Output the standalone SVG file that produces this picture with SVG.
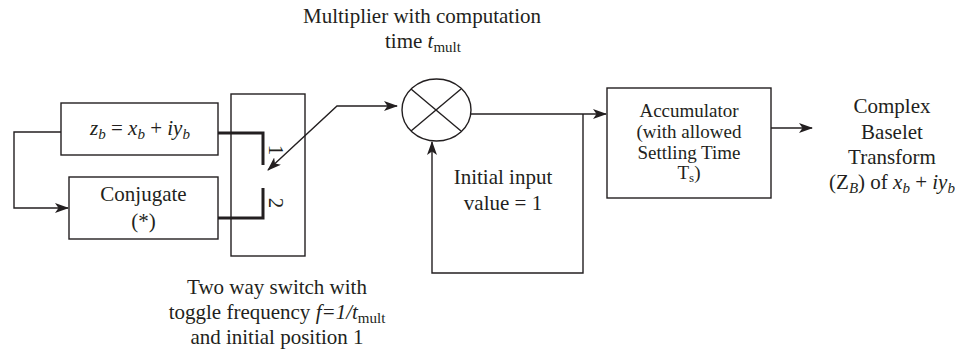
<svg xmlns="http://www.w3.org/2000/svg" width="955" height="353" viewBox="0 0 955 353">
<style>
.box{fill:none;stroke:#231f20;stroke-width:1.4}
.ln{fill:none;stroke:#231f20;stroke-width:1.4}
.thick{fill:none;stroke:#231f20;stroke-width:3}
text{font-family:"Liberation Serif","Times New Roman",serif;font-size:21px;fill:#231f20}
.c{text-anchor:middle}
.i{font-style:italic}
.sub{font-size:15px}
.acc{font-size:19px}
.accsub{font-size:13px}
</style>
<defs>
<marker id="ah" viewBox="0 0 14 10" refX="13" refY="5" markerWidth="14" markerHeight="10" markerUnits="userSpaceOnUse" orient="auto-start-reverse">
<path d="M0,0 L14,5 L0,10 L3.5,5 Z" fill="#231f20"/>
</marker>
</defs>
<rect width="955" height="353" fill="#ffffff"/>
<g id="connectors">
<polyline class="ln" points="61,132 14,132 14,208 68,208" marker-end="url(#ah)"/>
<polyline class="thick" points="218,133 263,133 263,165"/>
<polyline class="thick" points="218,218 263,218 263,188"/>
<polyline class="ln" points="268,170 337,106 397,106" marker-start="url(#ah)" marker-end="url(#ah)"/>
<polyline class="ln" points="471,114 606,114" marker-end="url(#ah)"/>
<polyline class="ln" points="583,114 583,273 432,273 432,142" marker-end="url(#ah)"/>
<polyline class="ln" points="771,128 812,128" marker-end="url(#ah)"/>
</g>
<g id="input">
<rect class="box" x="61" y="103" width="157" height="52"/>
<text class="c" x="140" y="135"><tspan class="i">z</tspan><tspan class="i sub" dy="4">b</tspan><tspan dy="-4"> = </tspan><tspan class="i">x</tspan><tspan class="i sub" dy="4">b</tspan><tspan dy="-4"> + </tspan><tspan class="i">iy</tspan><tspan class="i sub" dy="4">b</tspan></text>
</g>
<g id="conjugate">
<rect class="box" x="69" y="177" width="149" height="62"/>
<text class="c" x="143.5" y="201">Conjugate</text>
<text class="c" x="143.5" y="228">(*)</text>
</g>
<g id="switch">
<rect class="box" x="231" y="94" width="74" height="162"/>
<text class="c" transform="translate(269,150) rotate(90)">1</text>
<text class="c" transform="translate(269,203) rotate(90)">2</text>
</g>
<g id="multiplier">
<ellipse class="box" cx="436.5" cy="110" rx="34.5" ry="31"/>
<line class="ln" x1="411" y1="89" x2="461" y2="131"/>
<line class="ln" x1="411" y1="131" x2="461" y2="89"/>
</g>
<g id="accumulator">
<rect class="box" x="607" y="88" width="164" height="110"/>
<text class="c acc" x="689" y="117">Accumulator</text>
<text class="c acc" x="689" y="138">(with allowed</text>
<text class="c acc" x="689" y="159">Settling Time</text>
<text class="c acc" x="689" y="179">T<tspan class="accsub" dy="3">s</tspan><tspan dy="-3">)</tspan></text>
</g>
<g id="output">
<text class="c" x="892" y="113">Complex</text>
<text class="c" x="892" y="139">Baselet</text>
<text class="c" x="892" y="164">Transform</text>
<text class="c" x="892" y="189">(Z<tspan class="i sub" dy="4">B</tspan><tspan dy="-4">) of </tspan><tspan class="i">x</tspan><tspan class="i sub" dy="4">b</tspan><tspan dy="-4"> + </tspan><tspan class="i">iy</tspan><tspan class="i sub" dy="4">b</tspan></text>
</g>
<g id="multiplier-label">
<text class="c" x="422" y="23">Multiplier with computation</text>
<text class="c" x="423" y="48">time <tspan class="i">t</tspan><tspan class="sub" dy="4">mult</tspan></text>
</g>
<g id="feedback-label">
<text class="c" x="503" y="184">Initial input</text>
<text class="c" x="503" y="210">value = 1</text>
</g>
<g id="switch-label">
<text class="c" x="277" y="294">Two way switch with</text>
<text class="c" x="277" y="319">toggle frequency <tspan class="i">f=1/t</tspan><tspan class="sub" dy="4">mult</tspan></text>
<text class="c" x="277" y="344">and initial position 1</text>
</g>
</svg>
